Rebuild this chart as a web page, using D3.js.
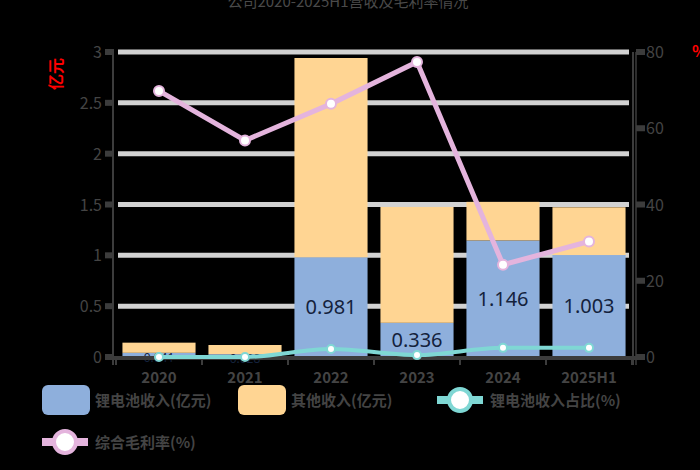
<!DOCTYPE html>
<html>
<head>
<meta charset="utf-8">
<script src="https://cdn.jsdelivr.net/npm/d3@7"></script>
<style>
    body { margin: 0; background: #000; }
    svg { display: block; font-family: "Noto Sans CJK SC", "Noto Sans", sans-serif; }
</style>
</head>
<body>
<svg id="chart" width="700" height="470"></svg>
<script>
var years = ["2020", "2021", "2022", "2023", "2024", "2025H1"];
var batteryIncome = [0.041, 0.028, 0.981, 0.336, 1.146, 1.003];
var otherIncome = [0.10, 0.09, 1.96, 1.14, 0.38, 0.47];
var batteryShare = [0, 0, 2.1, 0.5, 2.4, 2.4];
var grossMargin = [69.8, 56.8, 66.4, 77.4, 24.2, 30.3];
var leftTicks = [0, 0.5, 1, 1.5, 2, 2.5, 3];
var rightTicks = [0, 20, 40, 60, 80];
var seriesNames = ["锂电池收入(亿元)", "其他收入(亿元)", "锂电池收入占比(%)", "综合毛利率(%)"];
var titleText = "公司2020-2025H1营收及毛利率情况";

function drawChart() {
    var graph = d3.select("#chart"),
        margins = { top: 52, right: 68, bottom: 113, left: 116 },
        width = 700, height = 470,
        textColor = "#444",
        axisColor = "#3c3c3c",
        xRange = d3.scaleBand().domain(years)
            .range([margins.left, width - margins.right])
            .paddingInner(0.15).paddingOuter(0.075),
        yLeft = d3.scaleLinear().domain([0, 3]).range([height - margins.bottom, margins.top]),
        yRight = d3.scaleLinear().domain([0, 80]).range([height - margins.bottom, margins.top]);

    var y0 = yLeft(0);

    // title, pushed up so it gets clipped like the reference
    graph.append("text")
        .attr("x", 348).attr("y", 7)
        .attr("text-anchor", "middle")
        .attr("font-size", 15)
        .attr("fill", "#4a4a4a")
        .text(titleText);

    // grid
    graph.append("g").selectAll("line")
        .data(leftTicks.filter(function (d) { return d > 0; }))
        .enter().append("line")
        .attr("x1", margins.left + 2).attr("x2", width - margins.right - 3)
        .attr("y1", function (d) { return yLeft(d); })
        .attr("y2", function (d) { return yLeft(d); })
        .attr("stroke", "#d2d2d2")
        .attr("stroke-width", 5);

    // stacked bars
    var bars = graph.append("g");
    bars.selectAll("rect.blue")
        .data(years).enter().append("rect")
        .attr("x", function (d) { return xRange(d); })
        .attr("width", xRange.bandwidth())
        .attr("y", function (d, i) { return yLeft(batteryIncome[i]); })
        .attr("height", function (d, i) { return y0 - yLeft(batteryIncome[i]); })
        .attr("fill", "#8eafdc");
    bars.selectAll("rect.yellow")
        .data(years).enter().append("rect")
        .attr("x", function (d) { return xRange(d); })
        .attr("width", xRange.bandwidth())
        .attr("y", function (d, i) { return yLeft(batteryIncome[i] + otherIncome[i]); })
        .attr("height", function (d, i) { return yLeft(batteryIncome[i]) - yLeft(batteryIncome[i] + otherIncome[i]); })
        .attr("fill", "#ffd593");

    bars.selectAll("text")
        .data(years).enter().append("text")
        .attr("x", function (d) { return xRange(d) + xRange.bandwidth() / 2; })
        .attr("y", function (d, i) { return (y0 + yLeft(batteryIncome[i])) / 2 + 7; })
        .attr("text-anchor", "middle")
        .attr("font-family", "Noto Sans, sans-serif")
        .attr("font-size", function (d, i) { return batteryIncome[i] > 0.1 ? 20 : 12; })
        .attr("fill", "#14223c")
        .text(function (d, i) { return batteryIncome[i]; });

    // left axis
    var la = graph.append("g");
    la.append("line")
        .attr("x1", margins.left - 3).attr("x2", margins.left - 3)
        .attr("y1", yLeft(3)).attr("y2", y0 + 8)
        .attr("stroke", axisColor).attr("stroke-width", 2);
    la.selectAll("rect")
        .data(leftTicks).enter().append("rect")
        .attr("x", margins.left - 11).attr("width", 9)
        .attr("y", function (d) { return yLeft(d) - 3; }).attr("height", 6)
        .attr("fill", axisColor);
    la.selectAll("text")
        .data(leftTicks).enter().append("text")
        .attr("x", margins.left - 14)
        .attr("y", function (d) { return yLeft(d) + 6; })
        .attr("text-anchor", "end")
        .attr("font-size", 16)
        .attr("fill", textColor)
        .text(function (d) { return d; });
    la.append("text")
        .attr("transform", "translate(62,74) rotate(-90)")
        .attr("text-anchor", "middle")
        .attr("font-size", 16)
        .attr("font-weight", "bold")
        .attr("fill", "#ff0000")
        .text("亿元");

    // right axis
    var rx = width - margins.right;
    var ra = graph.append("g");
    ra.append("line")
        .attr("x1", rx + 1).attr("x2", rx + 1)
        .attr("y1", yRight(80)).attr("y2", y0 + 8)
        .attr("stroke", axisColor).attr("stroke-width", 2);
    ra.append("line")
        .attr("x1", rx + 4).attr("x2", rx + 4)
        .attr("y1", yRight(80)).attr("y2", y0 + 8)
        .attr("stroke", axisColor).attr("stroke-width", 1.5);
    ra.selectAll("rect")
        .data(rightTicks).enter().append("rect")
        .attr("x", rx + 4).attr("width", 9)
        .attr("y", function (d) { return yRight(d) - 3; }).attr("height", 6)
        .attr("fill", axisColor);
    ra.selectAll("text")
        .data(rightTicks).enter().append("text")
        .attr("x", rx + 14)
        .attr("y", function (d) { return yRight(d) + 6; })
        .attr("font-size", 16)
        .attr("fill", textColor)
        .text(function (d) { return d; });
    ra.append("text")
        .attr("x", 692).attr("y", 57)
        .attr("font-size", 16)
        .attr("font-weight", "bold")
        .attr("fill", "#ff0000")
        .text("%");

    // bottom axis
    var ba = graph.append("g");
    ba.append("line")
        .attr("x1", margins.left - 3).attr("x2", rx + 4)
        .attr("y1", y0 + 1).attr("y2", y0 + 1)
        .attr("stroke", axisColor).attr("stroke-width", 4);
    ba.selectAll("line.tick")
        .data(years.concat([""])).enter().append("line")
        .attr("x1", function (d, i) { return xRange.range()[0] + i * ((rx - margins.left) / years.length); })
        .attr("x2", function (d, i) { return xRange.range()[0] + i * ((rx - margins.left) / years.length); })
        .attr("y1", y0).attr("y2", y0 + 8)
        .attr("stroke", axisColor).attr("stroke-width", 2);
    ba.selectAll("text")
        .data(years).enter().append("text")
        .attr("x", function (d) { return xRange(d) + xRange.bandwidth() / 2; })
        .attr("y", y0 + 26)
        .attr("text-anchor", "middle")
        .attr("font-size", 15)
        .attr("font-weight", "bold")
        .attr("fill", textColor)
        .text(function (d) { return d; });

    // lines
    var cx = function (d, i) { return xRange(years[i]) + xRange.bandwidth() / 2; };
    var shareLine = d3.line()
        .x(cx)
        .y(function (d) { return yRight(d); })
        .curve(d3.curveMonotoneX);
    var marginLine = d3.line()
        .x(cx)
        .y(function (d) { return yRight(d); });

    graph.append("path")
        .attr("d", shareLine(batteryShare))
        .attr("stroke", "#7fd7d4").attr("stroke-width", 4)
        .attr("fill", "none");
    graph.append("g").selectAll("circle")
        .data(batteryShare).enter().append("circle")
        .attr("cx", cx).attr("cy", function (d) { return yRight(d); })
        .attr("r", 4)
        .attr("fill", "#fff").attr("stroke", "#7fd7d4").attr("stroke-width", 2);

    graph.append("path")
        .attr("d", marginLine(grossMargin))
        .attr("stroke", "#e4b4dd").attr("stroke-width", 5)
        .attr("fill", "none");
    graph.append("g").selectAll("circle")
        .data(grossMargin).enter().append("circle")
        .attr("cx", cx).attr("cy", function (d) { return yRight(d); })
        .attr("r", 5)
        .attr("fill", "#fff").attr("stroke", "#e4b4dd").attr("stroke-width", 2);

    // legend
    var legendItems = [
        { name: seriesNames[0], type: "bar", color: "#8eafdc", x: 42, y: 400 },
        { name: seriesNames[1], type: "bar", color: "#ffd593", x: 238, y: 400 },
        { name: seriesNames[2], type: "line", color: "#7fd7d4", x: 437, y: 400 },
        { name: seriesNames[3], type: "line", color: "#e4b4dd", x: 42, y: 442 }
    ];
    var lg = graph.append("g").selectAll("g")
        .data(legendItems).enter().append("g")
        .attr("transform", function (d) { return "translate(" + d.x + "," + d.y + ")"; });
    lg.filter(function (d) { return d.type === "bar"; })
        .append("rect")
        .attr("x", 0).attr("y", -15).attr("width", 48).attr("height", 30)
        .attr("rx", 6)
        .attr("fill", function (d) { return d.color; });
    var lineItems = lg.filter(function (d) { return d.type === "line"; });
    lineItems.append("line")
        .attr("x1", 0).attr("x2", 46).attr("y1", 0).attr("y2", 0)
        .attr("stroke", function (d) { return d.color; })
        .attr("stroke-width", 8);
    lineItems.append("circle")
        .attr("cx", 23).attr("cy", 0).attr("r", 11)
        .attr("fill", "#fff")
        .attr("stroke", function (d) { return d.color; })
        .attr("stroke-width", 4);
    lg.append("text")
        .attr("x", 53).attr("y", 6)
        .attr("font-size", 15)
        .attr("font-weight", "bold")
        .attr("fill", textColor)
        .text(function (d) { return d.name; });
}

drawChart();
</script>
</body>
</html>
